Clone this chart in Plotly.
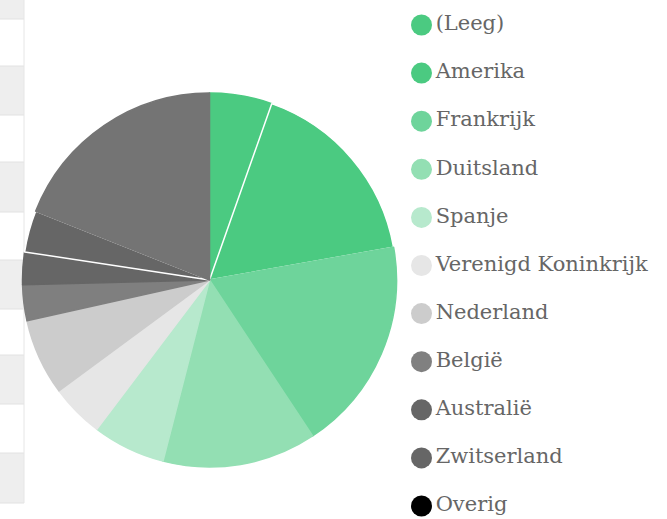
import plotly.graph_objects as go

W, H = 667, 519

categories = ["(Leeg)", "Amerika", "Frankrijk", "Duitsland", "Spanje",
              "Verenigd Koninkrijk", "Nederland", "België", "Australië",
              "Zwitserland", "Overig"]
values = [5.4, 16.8, 18.5, 13.3, 6.3, 4.6, 6.6, 3.1, 2.8, 3.6, 19.0]
slice_colors = ["#4bca81", "#4bca81", "#6ed49b", "#93dfb3", "#b7e9cd",
                "#e6e6e6", "#cccccc", "#7f7f7f", "#666666", "#666666", "#747474"]
legend_colors = ["#4bca81", "#4bca81", "#6ed49b", "#93dfb3", "#b7e9cd",
                 "#e6e6e6", "#cccccc", "#808080", "#666666", "#666666", "#000000"]
# separator shown only between identical neighbouring colours
line_colors = [slice_colors[i] for i in range(len(categories))]
line_colors[1] = "#ffffff"
line_colors[9] = "#ffffff"

fig = go.Figure()

cx, cy, r = 209.5, 280, 187
fig.add_trace(go.Pie(
    labels=categories, values=values, sort=False, direction="clockwise",
    rotation=0, textinfo="none", hoverinfo="label+percent",
    marker=dict(colors=slice_colors, line=dict(color=line_colors, width=1.5)),
    domain=dict(x=[(cx - r) / W, (cx + r) / W], y=[1 - (cy + r) / H, 1 - (cy - r) / H]),
    showlegend=False,
))

# legend drawn as a scatter trace on a hidden axis
idx = list(range(len(categories)))
fig.add_trace(go.Scatter(
    x=[0] * len(categories), y=idx, mode="markers+text",
    text=categories, textposition="middle right",
    textfont=dict(family="DejaVu Serif", size=21, color="#666666"),
    marker=dict(size=21, color=legend_colors, line=dict(width=0)),
    showlegend=False, hoverinfo="skip", cliponaxis=False,
))

top_px, step = 25, 48.1
fig.update_layout(
    width=W, height=H, margin=dict(l=0, r=0, t=0, b=0),
    paper_bgcolor="white", plot_bgcolor="rgba(0,0,0,0)",
    xaxis=dict(domain=[421.5 / W, 1], range=[0, 1], visible=False, fixedrange=True),
    yaxis=dict(domain=[0, 1], range=[(H - top_px) / step, -top_px / step],
               visible=False, fixedrange=True),
)

# left table-like stripes
bands = [(0, 19), (66, 115), (162, 212), (260, 309), (355, 404), (453, 503)]
shapes = []
for y0, y1 in bands:
    shapes.append(dict(type="rect", xref="paper", yref="paper",
                       x0=0, x1=24 / W, y0=1 - y1 / H, y1=1 - y0 / H,
                       fillcolor="#eeeeee", line=dict(width=0), layer="below"))
    for yy in (y0, y1):
        if yy > 0:
            shapes.append(dict(type="line", xref="paper", yref="paper",
                               x0=0, x1=24 / W, y0=1 - yy / H, y1=1 - yy / H,
                               line=dict(color="#e2e2e2", width=1), layer="below"))
shapes.append(dict(type="line", xref="paper", yref="paper",
                   x0=24 / W, x1=24 / W, y0=1 - 503 / H, y1=1,
                   line=dict(color="#e6e6e6", width=1), layer="below"))
fig.update_layout(shapes=shapes)

fig.write_html("out.html")
